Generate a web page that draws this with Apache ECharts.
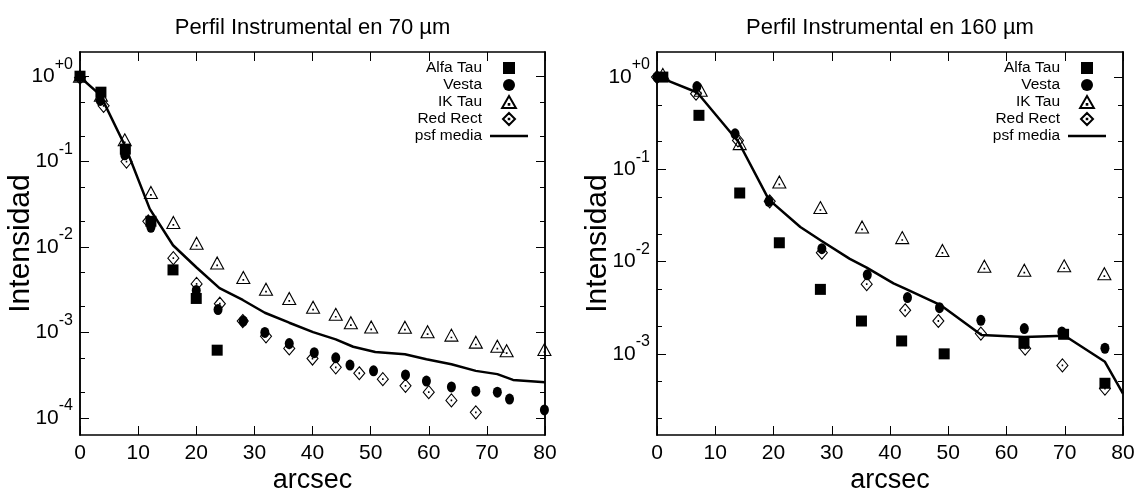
<!DOCTYPE html>
<html>
<head>
<meta charset="utf-8">
<script src="https://cdn.jsdelivr.net/npm/echarts@6/dist/echarts.min.js"></script>
<style>
html,body{margin:0;padding:0;background:#fff;}
#c{width:1137px;height:490px;}
</style>
</head>
<body>
<div id="c"></div>
<script>
// ---------- data ----------
const seriesNames = ['Alfa Tau', 'Vesta', 'IK Tau', 'Red Rect', 'psf media'];
const titles = ['Perfil Instrumental en 70 \u00b5m', 'Perfil Instrumental en 160 \u00b5m'];
const xTicks = [0, 10, 20, 30, 40, 50, 60, 70, 80];
const yMajorTicks = [1e-4, 1e-3, 1e-2, 1e-1, 1];
const yMinorTicks = [2e-5, 5e-5, 2e-4, 5e-4, 2e-3, 5e-3, 2e-2, 5e-2, 0.2, 0.5];

// 70 micron panel
const alfa70 = [[0,1.0],[3.6,0.65],[7.8,0.14],[12.2,0.02],[16,0.0054],[20,0.0025],[23.6,0.00062]];
const vesta70 = [[0,1.0],[3.5,0.52],[7.7,0.12],[12.2,0.017],[20,0.0031],[23.75,0.00185],[28.1,0.00136],[31.8,0.001],[36,0.00074],[40.3,0.00058],[44,0.000505],[46.45,0.000415],[50.5,0.000355],[56,0.000318],[59.6,0.00027],[63.9,0.00023],[68.1,0.000205],[71.8,0.0002],[73.9,0.000166],[79.9,0.000124]];
const ik70 = [[0,1.0],[3.6,0.6],[7.7,0.18],[12.2,0.0435],[16.06,0.0194],[20.06,0.0111],[23.6,0.0065],[28.1,0.0044],[32,0.0032],[36,0.0025],[40.1,0.00197],[44,0.00163],[46.6,0.0013],[50.1,0.00116],[55.9,0.00115],[59.8,0.00102],[63.9,0.00093],[68.1,0.00077],[71.8,0.00069],[73.4,0.00061],[79.9,0.00063]];
const red70 = [[0,0.96],[4.06,0.45],[8,0.1],[11.75,0.02],[16.06,0.0074],[20.06,0.0037],[24.06,0.00217],[28,0.00136],[32,0.0009],[36,0.00065],[40,0.000495],[44,0.00039],[48.05,0.000333],[52.1,0.000284],[56,0.000237],[60,0.0002],[63.9,0.00016],[68.1,0.000116]];
const psf70 = [[0,0.98],[3.5,0.6],[7.8,0.15],[12,0.028],[16,0.0105],[20,0.0058],[24,0.0033],[28,0.0024],[31.8,0.0017],[36,0.0013],[40.1,0.00101],[44,0.00083],[47,0.00068],[50.8,0.00059],[55.9,0.000555],[59.6,0.000485],[63.9,0.000425],[68.1,0.000355],[71.8,0.000325],[74.5,0.000278],[80,0.000262]];

// 160 micron panel
const alfa160 = [[1.0,1.0],[7.2,0.385],[14.2,0.0554],[21,0.016],[28.05,0.005],[35.1,0.00227],[42,0.00138],[49.3,0.001],[63,0.0013],[69.8,0.00163],[76.9,0.00048]];
const vesta160 = [[0,1.0],[6.85,0.79],[13.4,0.243],[19.2,0.045],[28.3,0.0138],[36.1,0.0072],[43,0.00407],[48.5,0.00317],[55.6,0.00231],[63.06,0.00188],[69.5,0.00173],[76.9,0.00115]];
const ik160 = [[1.0,1.07],[7.5,0.72],[14.2,0.19],[21,0.073],[28.05,0.0385],[35.2,0.0237],[42.1,0.0182],[49,0.0132],[56.2,0.0089],[63.06,0.00805],[69.9,0.009],[76.8,0.0074]];
const red160 = [[0,1.0],[6.7,0.66],[13.9,0.206],[19.35,0.045],[28.3,0.0125],[36,0.0057],[42.6,0.00297],[48.3,0.00227],[55.6,0.00166],[63.2,0.00114],[69.6,0.00075],[76.9,0.00042]];
const psf160 = [[0,1.0],[1.2,0.95],[6.9,0.68],[14,0.198],[19.2,0.047],[24.6,0.0237],[28.2,0.0168],[33.1,0.0107],[36,0.0086],[40.6,0.0058],[42.6,0.0051],[48.6,0.0034],[55.7,0.0016],[63,0.00152],[70,0.00157],[76.9,0.00082],[80,0.00037]];

const yRange70 = [6.3e-5, 1.92];
const yRange160 = [1.32e-4, 1.87];

// ---------- styling ----------
const FONT = "'Liberation Sans', Arial, Helvetica, sans-serif";
const BLACK = '#000';
const SQ = 'path://M0,0L10,0L10,10L0,10Z';
const TRI = 'path://M0,-10L11.5,10L-11.5,10Z M-0.5,3.5L0.5,3.5L0.5,4.5L-0.5,4.5Z';
const DIA = 'path://M0,-10L10,0L0,10L-10,0Z M-0.5,-0.5L0.5,-0.5L0.5,0.5L-0.5,0.5Z';
const LINEICON = 'path://M0,0L38,0L38,2.5L0,2.5Z';

const grids = [
  {left: 80, right: 1137 - 545, top: 52, bottom: 490 - 435, containLabel: false, outerBoundsMode: 'none'},
  {left: 657, right: 1137 - 1123, top: 52, bottom: 490 - 435, containLabel: false, outerBoundsMode: 'none'}
];

function xAxes(gi) {
  const base = {
    type: 'value', gridIndex: gi, min: 0, max: 80, interval: 10,
    splitLine: {show: false},
    axisLine: {show: true, onZero: false, lineStyle: {color: BLACK, width: 1.5}},
    axisTick: {show: true, inside: true, length: 9, customValues: xTicks, lineStyle: {color: BLACK, width: 1}}
  };
  return [
    Object.assign({}, base, {
      position: 'bottom',
      axisLabel: {show: true, customValues: xTicks, fontSize: 21, fontFamily: FONT, color: BLACK, margin: 8},
      name: 'arcsec', nameLocation: 'middle', nameGap: 33, nameMoveOverlap: false,
      nameTextStyle: {fontSize: 27, fontFamily: FONT, color: BLACK, lineHeight: 26}
    }),
    Object.assign({}, base, {position: 'top', axisLabel: {show: false}})
  ];
}

function supLabel(v) {
  const e = Math.round(Math.log10(v));
  return '{b|10}{s|' + (e >= 0 ? '+' + e : String(e)) + '}';
}

function yAxes(gi, range) {
  const base = {
    type: 'log', logBase: 10, gridIndex: gi, min: range[0], max: range[1],
    splitLine: {show: false},
    axisLine: {show: true, onZero: false, lineStyle: {color: BLACK, width: 1.5}}
  };
  const major = {show: true, inside: true, length: 9, customValues: yMajorTicks, lineStyle: {color: BLACK, width: 1}};
  const minor = {show: true, inside: true, length: 5, customValues: yMinorTicks, lineStyle: {color: BLACK, width: 1}};
  return [
    Object.assign({}, base, {
      position: 'left', axisTick: major,
      axisLabel: {
        show: true, customValues: yMajorTicks, margin: 7, formatter: supLabel,
        rich: {
          b: {fontSize: 21, fontFamily: FONT, color: BLACK, lineHeight: 40, verticalAlign: 'middle'},
          s: {fontSize: 16, fontFamily: FONT, color: BLACK, lineHeight: 18, verticalAlign: 'top'}
        }
      },
      name: 'Intensidad', nameLocation: 'middle', nameGap: 44, nameRotate: 90, nameMoveOverlap: false,
      nameTextStyle: {fontSize: 30, fontFamily: FONT, color: BLACK, lineHeight: 30}
    }),
    Object.assign({}, base, {position: 'left', axisTick: minor, axisLabel: {show: false}}),
    Object.assign({}, base, {position: 'right', axisTick: major, axisLabel: {show: false}}),
    Object.assign({}, base, {position: 'right', axisTick: minor, axisLabel: {show: false}})
  ];
}

function panelSeries(gi, alfa, vesta, ik, red, psf) {
  const xi = gi * 2, yi = gi * 4;
  const hollow = {color: 'rgba(255,255,255,0)', borderColor: BLACK, borderWidth: 1.1, opacity: 1};
  return [
    {name: seriesNames[1], type: 'scatter', xAxisIndex: xi, yAxisIndex: yi, data: vesta,
     symbol: 'circle', symbolSize: [9, 11], itemStyle: {color: BLACK, opacity: 1}, z: 2},
    {name: seriesNames[0], type: 'scatter', xAxisIndex: xi, yAxisIndex: yi, data: alfa,
     symbol: 'rect', symbolSize: [11, 11], itemStyle: {color: BLACK, opacity: 1}, z: 3},
    {name: seriesNames[2], type: 'scatter', xAxisIndex: xi, yAxisIndex: yi, data: ik,
     symbol: TRI, symbolSize: [13, 12], itemStyle: hollow, z: 4},
    {name: seriesNames[3], type: 'scatter', xAxisIndex: xi, yAxisIndex: yi, data: red,
     symbol: DIA, symbolSize: [11, 13], itemStyle: hollow, z: 4},
    {name: seriesNames[4], type: 'line', xAxisIndex: xi, yAxisIndex: yi, data: psf,
     symbol: 'none', smooth: false, lineStyle: {color: BLACK, width: 2.5}, itemStyle: {color: BLACK}, z: 5}
  ];
}

function legendFor(rightEdge) {
  return {
    orient: 'vertical', right: 1137 - rightEdge, top: 60, align: 'right', padding: 0,
    itemWidth: 38, itemHeight: 12, itemGap: 1, selectedMode: false, symbolKeepAspect: true,
    textStyle: {fontSize: 15.5, fontFamily: FONT, color: BLACK, lineHeight: 12, padding: [0, 3, 0, 0]},
    data: [
      {name: seriesNames[0], icon: SQ},
      {name: seriesNames[1]},
      {name: seriesNames[2]},
      {name: seriesNames[3]},
      {name: seriesNames[4], icon: LINEICON}
    ]
  };
}

const chart = echarts.init(document.getElementById('c'), null, {renderer: 'canvas'});
chart.setOption({
  backgroundColor: '#fff',
  animation: false,
  title: [
    {text: titles[0], left: 312.5, top: 16, textAlign: 'center', padding: 0,
     textStyle: {fontSize: 22, fontWeight: 'normal', fontFamily: FONT, color: BLACK, lineHeight: 24}},
    {text: titles[1], left: 890, top: 16, textAlign: 'center', padding: 0,
     textStyle: {fontSize: 22, fontWeight: 'normal', fontFamily: FONT, color: BLACK, lineHeight: 24}}
  ],
  legend: [legendFor(528), legendFor(1106)],
  grid: grids,
  xAxis: xAxes(0).concat(xAxes(1)),
  yAxis: yAxes(0, yRange70).concat(yAxes(1, yRange160)),
  series: panelSeries(0, alfa70, vesta70, ik70, red70, psf70)
    .concat(panelSeries(1, alfa160, vesta160, ik160, red160, psf160))
});
</script>
</body>
</html>
